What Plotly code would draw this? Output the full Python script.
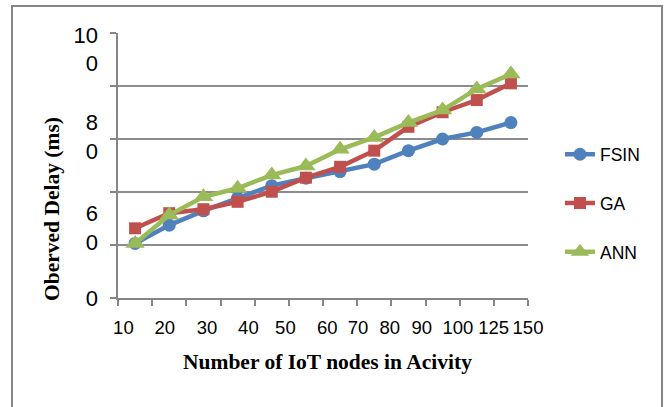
import plotly.graph_objects as go

# ---- data ----
nodes = ["10", "20", "30", "40", "50", "60", "70", "80", "90", "100", "125", "150"]
fsin = [20.6, 27.5, 32.9, 37.8, 42.4, 45.2, 47.7, 50.5, 55.6, 60.0, 62.5, 66.2]
ga = [26.3, 32.0, 33.5, 36.3, 40.1, 45.4, 49.5, 55.6, 64.6, 70.1, 74.7, 81.0]
ann = [20.6, 31.3, 38.2, 41.4, 46.4, 49.8, 56.1, 60.6, 66.2, 70.9, 78.9, 84.5]
series_names = ["FSIN", "GA", "ANN"]

# y tick labels as they appear (wrapped) and where they sit
y_tick_text = ["10<br>0", "8<br>0", "6<br>0", "0"]
y_tick_pos = [93.8, 60.8, 26.5, 0]
# x tick label positions (in category units) as they appear
x_label_pos = [-0.342, 0.867, 2.105, 3.316, 4.399, 5.622, 6.524, 7.451, 8.388, 9.45, 10.495, 11.5]

x_title = "Number of IoT nodes in Acivity"
y_title = "Oberved Delay (ms)"

# ---- styles ----
colors = ["#4F81BD", "#C0504D", "#9BBB59"]
symbols = ["circle", "square", "triangle-up"]
sizes = [13, 12, 17]
axis_col = "#868686"
grid_col = "#8C8C8C"
sans = "Liberation Sans, Arial, sans-serif"
serif = "Liberation Serif, Times New Roman, serif"

fig = go.Figure()
for name, vals, col, sym, sz in zip(series_names, [fsin, ga, ann], colors, symbols, sizes):
    fig.add_trace(go.Scatter(
        x=nodes, y=vals, name=name, mode="lines+markers",
        line=dict(color=col, width=4.5),
        marker=dict(symbol=sym, size=sz, color=col),
        legendgroup=name,
    ))
# carrier for the label axes
fig.add_trace(go.Scatter(x=[None], y=[None], xaxis="x2", yaxis="y2",
                         showlegend=False, hoverinfo="skip"))

fig.update_layout(
    width=670, height=407,
    margin=dict(l=118, r=142, t=33, b=109, autoexpand=False),
    paper_bgcolor="white", plot_bgcolor="white",
    xaxis=dict(type="category", range=[-0.5, 11.5], showline=True, linecolor=axis_col,
               linewidth=2, ticks="outside", tickson="boundaries", ticklen=6,
               tickwidth=2, tickcolor=axis_col, showticklabels=False,
               showgrid=False, zeroline=False),
    yaxis=dict(range=[0, 100], tick0=0, dtick=20, showgrid=True, gridcolor=grid_col,
               gridwidth=2, showline=True, linecolor=axis_col, linewidth=2,
               ticks="outside", ticklen=6, tickwidth=2, tickcolor=axis_col,
               showticklabels=False, zeroline=False),
    xaxis2=dict(overlaying="x", anchor="y2", side="bottom", range=[-0.5, 11.5],
                tickmode="array", tickvals=x_label_pos, ticktext=nodes,
                ticks="", showgrid=False, showline=False, zeroline=False,
                tickfont=dict(family=sans, size=18.5, color="black"),
                ticklabelstandoff=16),
    yaxis2=dict(overlaying="y", anchor="x2", side="left", range=[0, 100],
                tickmode="array", tickvals=y_tick_pos, ticktext=y_tick_text,
                ticks="", showgrid=False, showline=False, zeroline=False,
                tickfont=dict(family=sans, size=22, color="black"),
                ticklabelstandoff=19),
    legend=dict(x=1.078, y=0.61, xanchor="left", yanchor="top",
                font=dict(family=sans, size=17.5, color="black"),
                tracegroupgap=23, bgcolor="rgba(0,0,0,0)"),
    showlegend=True,
    annotations=[
        dict(text="<b>" + x_title + "</b>", xref="paper", yref="paper",
             x=0.511, y=-0.2415, xanchor="center", yanchor="middle", showarrow=False,
             font=dict(family=serif, size=21.5, color="black")),
        dict(text="<b>" + y_title + "</b>", xref="paper", yref="paper",
             x=-0.161, y=0.336, xanchor="center", yanchor="middle", showarrow=False,
             textangle=-90, font=dict(family=serif, size=21.5, color="black")),
    ],
    shapes=[dict(type="rect", xref="paper", yref="paper", x0=-0.2585, x1=1.3268,
                 y0=-0.5, y1=1.1019, line=dict(color=axis_col, width=2),
                 fillcolor="rgba(0,0,0,0)", layer="below")],
)

fig.write_html("out.html")
